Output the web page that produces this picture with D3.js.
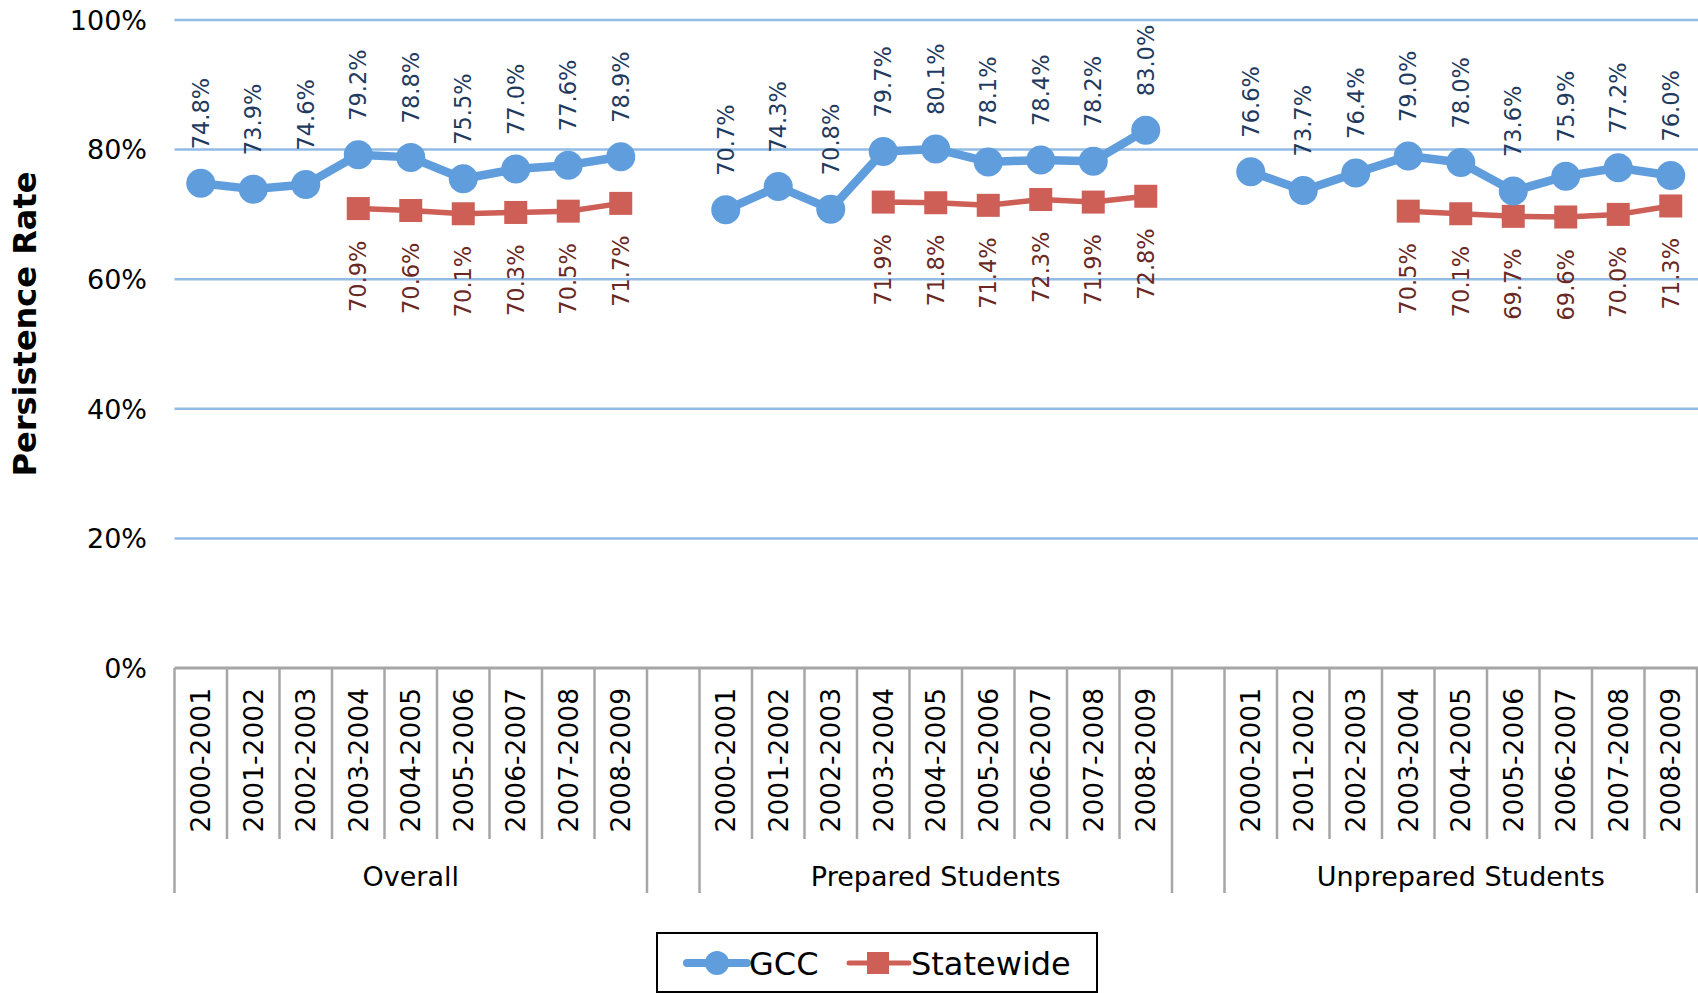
<!DOCTYPE html>
<html>
<head>
<meta charset="utf-8">
<script src="https://cdn.jsdelivr.net/npm/d3@7"></script>
<style>
  html, body { margin: 0; padding: 0; background: #fff; }
  svg { display: block; font-family: "DejaVu Sans", Verdana, sans-serif; }
</style>
</head>
<body>
<svg id="chart" width="1698" height="993"></svg>
<script>
// ---- data ----
const groups = ["Overall", "Prepared Students", "Unprepared Students"];
const years = ["2000-2001", "2001-2002", "2002-2003", "2003-2004", "2004-2005",
               "2005-2006", "2006-2007", "2007-2008", "2008-2009"];
const gccOverall      = [74.8, 73.9, 74.6, 79.2, 78.8, 75.5, 77.0, 77.6, 78.9];
const stateOverall    = [null, null, null, 70.9, 70.6, 70.1, 70.3, 70.5, 71.7];
const gccPrepared     = [70.7, 74.3, 70.8, 79.7, 80.1, 78.1, 78.4, 78.2, 83.0];
const statePrepared   = [null, null, null, 71.9, 71.8, 71.4, 72.3, 71.9, 72.8];
const gccUnprepared   = [76.6, 73.7, 76.4, 79.0, 78.0, 73.6, 75.9, 77.2, 76.0];
const stateUnprepared = [null, null, null, 70.5, 70.1, 69.7, 69.6, 70.0, 71.3];
const yTicks = [0, 20, 40, 60, 80, 100];
const seriesNames = ["GCC", "Statewide"];

(function () {
const gccByGroup = [gccOverall, gccPrepared, gccUnprepared];
const stateByGroup = [stateOverall, statePrepared, stateUnprepared];

// ---- layout ----
const svg = d3.select("#chart");
const plotL = 174.5, plotR = 1697, plotT = 20, plotB = 668;
const blue = "#5f9ddc", red = "#cd5f57";
const blueLabel = "#1f3a5f", redLabel = "#6a2824";

// slots: each group's years, with a blank slot between groups
const slots = [];
groups.forEach((g, gi) => {
  if (gi > 0) slots.push("gap" + gi);
  years.forEach(yr => slots.push(g + "|" + yr));
});
const x = d3.scaleBand().domain(slots).range([plotL, plotR]).padding(0);
const y = d3.scaleLinear().domain([0, 100]).range([plotB, plotT]);
const bw = x.bandwidth();

// gridlines
svg.append("g").selectAll("line").data(yTicks.filter(t => t > 0)).join("line")
  .attr("x1", plotL).attr("x2", 1698)
  .attr("y1", d => y(d)).attr("y2", d => y(d))
  .attr("stroke", "#92bbe6").attr("stroke-width", 2.5);

// y axis labels
svg.append("g").selectAll("text").data(yTicks).join("text")
  .attr("x", 147).attr("y", d => y(d)).attr("dy", "0.36em")
  .attr("text-anchor", "end").attr("font-size", 27).attr("fill", "#000")
  .text(d => d + "%");

// axis title
svg.append("text")
  .attr("transform", `translate(36,${(plotT + plotB) / 2 - 20}) rotate(-90)`)
  .attr("text-anchor", "middle").attr("font-size", 32).attr("font-weight", "bold")
  .text("Persistence Rate");

// category axis
const axisG = svg.append("g");
axisG.append("line").attr("x1", plotL).attr("x2", 1698).attr("y1", plotB).attr("y2", plotB)
  .attr("stroke", "#a6a6a6").attr("stroke-width", 3);
const bounds = d3.range(slots.length + 1).map(i => plotL + i * bw);
const groupBounds = new Set([0, 9, 10, 19, 20, 29]);
axisG.selectAll("line.tk").data(d3.range(slots.length + 1)).join("line")
  .attr("class", "tk")
  .attr("x1", i => bounds[i]).attr("x2", i => bounds[i])
  .attr("y1", plotB).attr("y2", i => groupBounds.has(i) ? 893 : 839)
  .attr("stroke", "#a6a6a6").attr("stroke-width", 2.5);
const yearSlots = slots.filter(s => !s.startsWith("gap"));
axisG.selectAll("text.yr").data(yearSlots).join("text")
  .attr("class", "yr")
  .attr("transform", s => `translate(${x(s) + bw / 2},688) rotate(-90)`)
  .attr("dy", "0.36em").attr("text-anchor", "end").attr("font-size", 26.5)
  .text(s => s.split("|")[1]);
axisG.selectAll("text.grp").data(groups).join("text")
  .attr("class", "grp")
  .attr("x", g => (x(g + "|" + years[0]) + x(g + "|" + years[8]) + bw) / 2)
  .attr("y", 886).attr("text-anchor", "middle").attr("font-size", 27)
  .text(g => g);

// series
const lineGen = d3.line().defined(d => d.v != null).x(d => d.x).y(d => y(d.v));
function pts(arr, g) { return arr.map((v, i) => ({ v, x: x(g + "|" + years[i]) + bw / 2 })); }

groups.forEach((g, gi) => {
  const gp = pts(gccByGroup[gi], g);
  const sp = pts(stateByGroup[gi], g);
  svg.append("path").datum(sp).attr("d", lineGen).attr("fill", "none")
    .attr("stroke", red).attr("stroke-width", 5.5).attr("stroke-linejoin", "round");
  svg.append("g").selectAll("rect").data(sp.filter(d => d.v != null)).join("rect")
    .attr("x", d => d.x - 11.5).attr("y", d => y(d.v) - 11.5)
    .attr("width", 23).attr("height", 23).attr("fill", red);
  svg.append("path").datum(gp).attr("d", lineGen).attr("fill", "none")
    .attr("stroke", blue).attr("stroke-width", 8.5).attr("stroke-linejoin", "round");
  svg.append("g").selectAll("circle").data(gp).join("circle")
    .attr("cx", d => d.x).attr("cy", d => y(d.v)).attr("r", 14.5).attr("fill", blue);
  svg.append("g").selectAll("text").data(gp).join("text")
    .attr("transform", d => `translate(${d.x},${y(d.v) - 34}) rotate(-90)`)
    .attr("dy", "0.36em").attr("text-anchor", "start").attr("font-size", 22.5)
    .attr("fill", blueLabel).text(d => d.v.toFixed(1) + "%");
  svg.append("g").selectAll("text").data(sp.filter(d => d.v != null)).join("text")
    .attr("transform", d => `translate(${d.x},${y(d.v) + 32}) rotate(-90)`)
    .attr("dy", "0.36em").attr("text-anchor", "end").attr("font-size", 22.5)
    .attr("fill", redLabel).text(d => d.v.toFixed(1) + "%");
});

// legend
const lg = svg.append("g");
lg.append("rect").attr("x", 657).attr("y", 933).attr("width", 440).attr("height", 59)
  .attr("fill", "#fff").attr("stroke", "#000").attr("stroke-width", 2);
const legItems = [
  { name: seriesNames[0], color: blue, x0: 687, sw: 8, shape: "circle" },
  { name: seriesNames[1], color: red, x0: 849, sw: 5, shape: "rect" }
];
legItems.forEach(it => {
  lg.append("line").attr("x1", it.x0).attr("x2", it.x0 + 60).attr("y1", 963).attr("y2", 963)
    .attr("stroke", it.color).attr("stroke-width", it.sw).attr("stroke-linecap", "round");
  if (it.shape === "circle") {
    lg.append("circle").attr("cx", it.x0 + 30).attr("cy", 963).attr("r", 12).attr("fill", it.color);
  } else {
    lg.append("rect").attr("x", it.x0 + 18).attr("y", 952).attr("width", 22).attr("height", 22).attr("fill", it.color);
  }
  lg.append("text").attr("x", it.x0 + 62).attr("y", 975).attr("font-size", 32).text(it.name);
});
})();
</script>
</body>
</html>
